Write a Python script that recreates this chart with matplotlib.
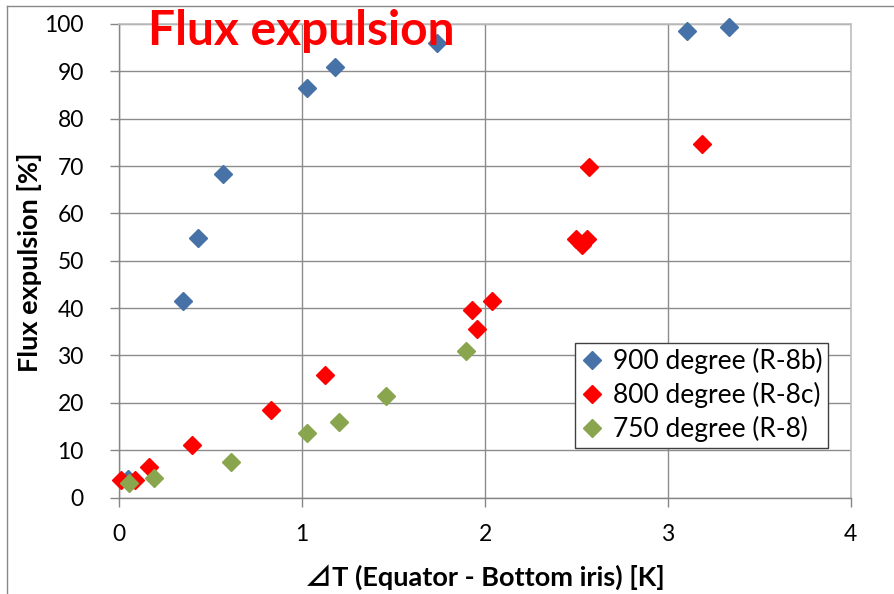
import matplotlib
matplotlib.use("Agg")
from matplotlib import pyplot as plt
from matplotlib.lines import Line2D

# data
x_900 = [0.05, 0.347, 0.432, 0.569, 1.026, 1.18, 1.739, 3.105, 3.333]
y_900 = [4.0, 41.6, 54.8, 68.3, 86.4, 90.9, 96.0, 98.5, 99.4]

x_800 = [0.008, 0.086, 0.162, 0.396, 0.830, 1.125, 1.929, 1.958, 2.040,
         2.50, 2.56, 2.53, 2.570, 3.189]
y_800 = [3.7, 3.6, 6.4, 11.0, 18.5, 25.8, 39.6, 35.5, 41.6,
         54.6, 54.6, 53.4, 69.9, 74.7]

x_750 = [0.053, 0.188, 0.609, 1.025, 1.202, 1.459, 1.898]
y_750 = [3.0, 4.1, 7.6, 13.7, 16.0, 21.5, 31.0]

labels = ["900 degree (R-8b)", "800 degree (R-8c)", "750 degree (R-8)"]
colors = ["#4672A7", "#FF0000", "#89A54E"]

fonts = ["Lato", "Noto Sans CJK JP", "DejaVu Sans"]
plt.rcParams["font.family"] = fonts

W, H = 894, 594
fig = plt.figure(figsize=(W / 100, H / 100), dpi=100)
ax = fig.add_axes([119.3 / W, 1 - 497.5 / H, (850.7 - 119.3) / W, (497.5 - 24) / H])

# points
for xs, ys, c, lab in zip([x_900, x_800, x_750], [y_900, y_800, y_750], colors, labels):
    ax.plot(xs, ys, ls="none", marker="D", ms=8.7, color=c, mec=c, label=lab,
            clip_on=False, zorder=3)

ax.set_xlim(0, 4)
ax.set_ylim(0, 100)
ax.set_xticks(range(0, 5))
ax.set_yticks(range(0, 101, 10))

ax.grid(True, color="#8C8C8C", lw=1.0)
ax.set_axisbelow(True)
for side in ["left", "bottom"]:
    ax.spines[side].set_color("#868686")
    ax.spines[side].set_linewidth(1.0)
for side in ["top", "right"]:
    ax.spines[side].set_color("#BFBFBF")
    ax.spines[side].set_linewidth(1.2)

ax.tick_params(axis="both", direction="out", length=6.5, width=1.0,
               color="#868686", labelsize=16.5, labelcolor="black")
ax.tick_params(axis="y", pad=19)
ax.tick_params(axis="x", pad=12.5)

# axis titles
fig.text(30 / W, 1 - 262 / H, "Flux expulsion [%]", rotation=90, ha="center",
         va="center", fontsize=19.5, fontweight="bold")
fig.text(485 / W, 1 - 577 / H, "⊿T (Equator - Bottom iris) [K]", ha="center",
         va="center", fontsize=19.5, fontweight="bold")

# chart title
fig.text(148 / W, 1 - 45 / H, "Flux expulsion", ha="left", va="baseline",
         fontsize=34.5, fontweight="bold", color="#FF0000")

# legend
leg = ax.legend(loc="upper left", bbox_to_anchor=(575 / W, 1 - 343 / H),
                bbox_transform=fig.transFigure, borderaxespad=0, fontsize=19,
                frameon=True, fancybox=False, edgecolor="#404040",
                framealpha=1, numpoints=1, handlelength=0.9,
                handletextpad=0.35, borderpad=0.2, labelspacing=0.3)
leg.get_frame().set_linewidth(1.0)

# outer chart border
fig.add_artist(Line2D([7 / W, 1], [1 - 6 / H, 1 - 6 / H], color="#888888", lw=1.0))
fig.add_artist(Line2D([7 / W, 7 / W], [0, 1 - 6 / H], color="#888888", lw=1.0))

fig.savefig("out.png", dpi=100)
